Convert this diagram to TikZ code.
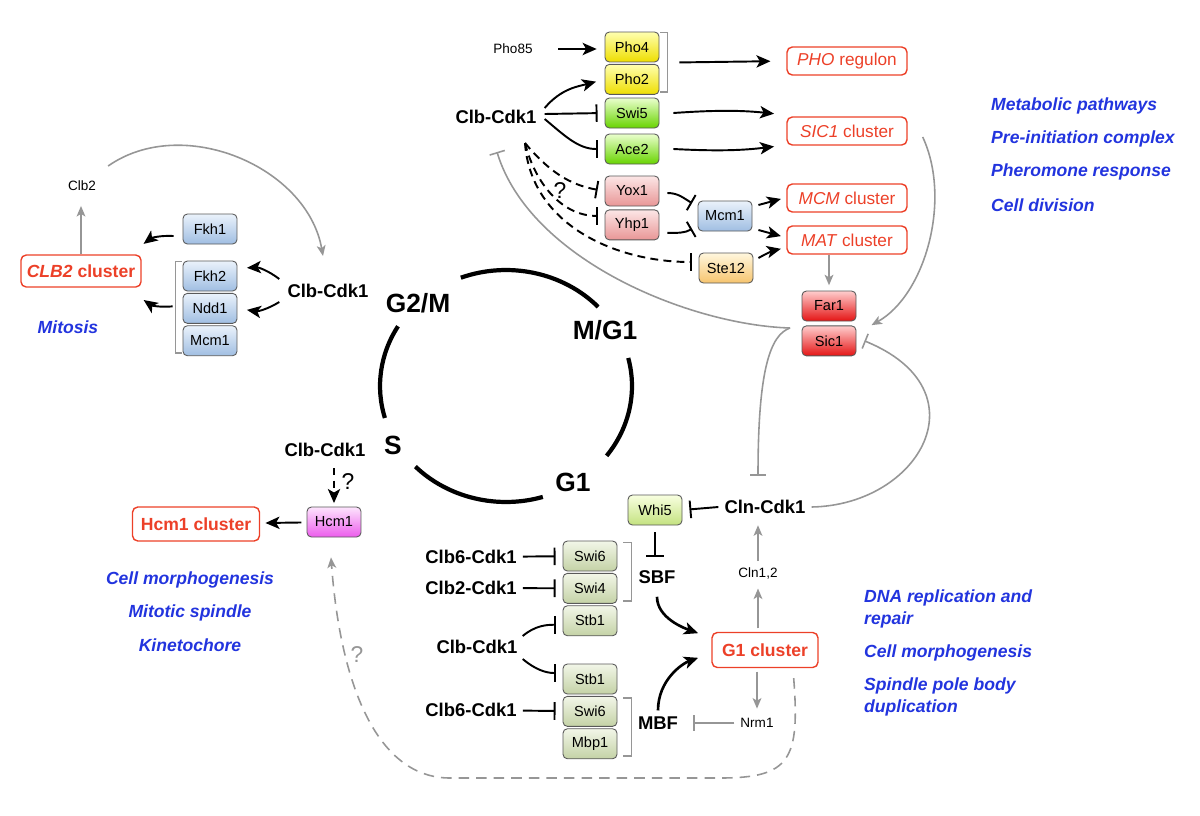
\documentclass[tikz,border=0pt]{standalone}
\usepackage{fontspec}
\setmainfont{Liberation Sans}
\usetikzlibrary{arrows.meta, positioning, calc}

\definecolor{clred}{RGB}{236,64,40}
\definecolor{fnblue}{RGB}{34,52,222}
\definecolor{lngray}{RGB}{150,150,150}
\definecolor{bluetop}{RGB}{234,242,251}
\definecolor{bluebot}{RGB}{160,190,226}
\definecolor{yeltop}{RGB}{255,255,175}
\definecolor{yelbot}{RGB}{238,222,0}
\definecolor{grntop}{RGB}{234,255,205}
\definecolor{grnbot}{RGB}{104,212,0}
\definecolor{pnktop}{RGB}{252,230,230}
\definecolor{pnkbot}{RGB}{232,150,150}
\definecolor{orgtop}{RGB}{255,247,222}
\definecolor{orgbot}{RGB}{246,196,110}
\definecolor{redtop}{RGB}{255,205,205}
\definecolor{redbot}{RGB}{228,20,20}
\definecolor{magtop}{RGB}{253,228,253}
\definecolor{magbot}{RGB}{236,92,236}
\definecolor{limtop}{RGB}{248,255,224}
\definecolor{limbot}{RGB}{196,226,128}
\definecolor{olvtop}{RGB}{242,246,232}
\definecolor{olvbot}{RGB}{196,210,166}

\begin{document}
\begin{tikzpicture}[x=0.02cm, y=0.02cm, >={Stealth[length=8pt,width=7pt,inset=2pt]}, font=\fontsize{8.3}{10}\selectfont]
  \tikzstyle{gene}=[draw=black!65, rounded corners=2.5pt, minimum width=1.08cm, minimum height=0.6cm, inner sep=0pt, line width=0.5pt]
  \tikzstyle{bluegene}=[gene, top color=bluetop, bottom color=bluebot]
  \tikzstyle{yellowgene}=[gene, top color=yeltop, bottom color=yelbot]
  \tikzstyle{brightgene}=[gene, top color=grntop, bottom color=grnbot]
  \tikzstyle{pinkgene}=[gene, top color=pnktop, bottom color=pnkbot]
  \tikzstyle{orangegene}=[gene, top color=orgtop, bottom color=orgbot]
  \tikzstyle{redgene}=[gene, top color=redtop, bottom color=redbot]
  \tikzstyle{magentagene}=[gene, top color=magtop, bottom color=magbot]
  \tikzstyle{limegene}=[gene, top color=limtop, bottom color=limbot]
  \tikzstyle{olivegene}=[gene, top color=olvtop, bottom color=olvbot]
  \tikzstyle{cluster}=[draw=clred, text=clred, rounded corners=3pt, line width=0.8pt, minimum width=2.4cm, minimum height=0.56cm, font=\fontsize{9.8}{11}\selectfont]
  \tikzstyle{boldcluster}=[cluster, font=\bfseries\fontsize{10}{12}\selectfont]
  \tikzstyle{kinase}=[font=\bfseries\fontsize{10.5}{12}\selectfont]
  \tikzstyle{phase}=[font=\bfseries\fontsize{15}{18}\selectfont]
  \tikzstyle{func}=[text=fnblue, align=left, font=\bfseries\itshape\fontsize{10}{13}\selectfont]
  \tikzstyle{smalltext}=[font=\fontsize{7.7}{9}\selectfont]
  \tikzstyle{query}=[font=\fontsize{13}{15}\selectfont]
  \tikzstyle{act}=[->, line width=1.1pt, shorten >=2pt]
  \tikzstyle{inh}=[-{Bar[width=10pt]}, line width=1.1pt, shorten >=4pt]
  \tikzstyle{dact}=[act, dash pattern=on 4pt off 3pt]
  \tikzstyle{dinh}=[-{Bar[width=10pt]}, line width=1.1pt, dash pattern=on 4.5pt off 3pt, shorten >=4pt]
  \tikzstyle{gact}=[-{Stealth[length=6pt,width=5pt,inset=1.5pt]}, lngray, line width=0.9pt, shorten >=2pt]
  \tikzstyle{ginh}=[-{Bar[width=9pt]}, lngray, line width=0.9pt]
  \tikzstyle{gdact}=[gact, dash pattern=on 6pt off 4pt]
  \tikzstyle{bracket}=[lngray, line width=0.9pt]
  \tikzstyle{phasearc}=[line width=2.4pt]

  \useasboundingbox (0,0) rectangle (1200,-815);

  % cell cycle
  \coordinate (cc) at (506,-386);
  \draw[phasearc] ($(cc)+(111:2.52cm and 2.32cm)$) arc[start angle=111, end angle=43, x radius=2.52cm, y radius=2.32cm];
  \draw[phasearc] ($(cc)+(14:2.52cm and 2.32cm)$) arc[start angle=14, end angle=-37, x radius=2.52cm, y radius=2.32cm];
  \draw[phasearc] ($(cc)+(224:2.52cm and 2.32cm)$) arc[start angle=224, end angle=287, x radius=2.52cm, y radius=2.32cm];
  \draw[phasearc] ($(cc)+(149:2.52cm and 2.32cm)$) arc[start angle=149, end angle=196, x radius=2.52cm, y radius=2.32cm];
  \node[phase] (g2m) at (418,-303) {G2/M};
  \node[phase] (mg1) at (605,-330) {M/G1};
  \node[phase] (sph) at (393,-445) {S};
  \node[phase] (g1ph) at (573,-482) {G1};

  % mitosis module
  \node[smalltext] (clb2) at (82,-186) {Clb2};
  \node[bluegene] (fkh1) at (210,-229) {Fkh1};
  \node[boldcluster, minimum width=2.36cm, minimum height=0.64cm] (clb2c) at (81,-271) {\textit{CLB2} cluster};
  \node[bluegene] (fkh2) at (210,-276) {Fkh2};
  \node[bluegene, below=0.03cm of fkh2] (ndd1) {Ndd1};
  \node[bluegene, below=0.03cm of ndd1] (mcm1a) {Mcm1};
  \node[kinase] (clbL) at (328,-291) {Clb-Cdk1};
  \node[func] (mitosis) at (68,-327) {Mitosis};

  \draw[gact, shorten >=5pt] (clb2c.north) -- (clb2c.north |- clb2.south);
  \draw[gact, shorten >=0pt] ($(clb2.east)+(6,20)$) to[out=35, in=100] ($(clbL.north)+(-5,22)$);
  \draw[bracket] ($(fkh2.north west)+(-1,-1)$) -- ++(-6,0) |- ($(mcm1a.south west)+(-1,3)$);
  \draw[act] ($(fkh1.west)+(-9,-7)$) to[bend right=20] ($(clb2c.east)+(-1,25)$);
  \draw[act] ($(ndd1.west)+(-10,2)$) to[bend left=20] ($(clb2c.east)+(-1,-27)$);
  \draw[act] ($(clbL.west)+(-2,12)$) to[bend right=20] ($(fkh2.east)+(6,8)$);
  \draw[act] ($(clbL.west)+(-2,-11)$) to[bend left=20] ($(ndd1.east)+(6,-1)$);

  % M/G1 module
  \node[smalltext] (pho85) at (513,-49) {Pho85};
  \node[yellowgene] (pho4) at (632,-47) {Pho4};
  \node[yellowgene, below=0.03cm of pho4] (pho2) {Pho2};
  \node[kinase] (clbT) at (496,-117) {Clb-Cdk1};
  \node[brightgene] (swi5) at (632,-113) {Swi5};
  \node[brightgene] (ace2) at (632,-149) {Ace2};
  \node[pinkgene] (yox1) at (632,-191) {Yox1};
  \node[pinkgene, below=0.06cm of yox1] (yhp1) {Yhp1};
  \node[bluegene] (mcm1b) at (725,-216) {Mcm1};
  \node[orangegene] (ste12) at (726,-268) {Ste12};
  \node[cluster] (pho) at (847,-61) {\textit{PHO} regulon};
  \node[cluster] (sic1c) at (847,-131) {\textit{SIC1} cluster};
  \node[cluster] (mcmc) at (847,-198) {\textit{MCM} cluster};
  \node[cluster] (matc) at (847,-240) {\textit{MAT} cluster};
  \node[redgene] (far1) at (829,-306) {Far1};
  \node[redgene, below=0.08cm of far1] (sic1) {Sic1};
  \node[query] (q1) at (560,-191) {?};

  \draw[act, shorten <=11pt, shorten >=4.5pt] (pho85.east) -- (pho85.east -| pho4.west);
  \draw[bracket] ($(pho4.north east)+(1,-1)$) -- ++(7,0) |- ($(pho2.south east)+(1,3)$);
  \draw[act, shorten >=9pt] ($(pho4.south east)+(20,0)$) -- (pho.west);
  \draw[act, shorten >=5pt] ($(clbT.east)+(2,9)$) to[out=50, in=195] (pho2.west);
  \draw[inh] ($(clbT.east)+(2,3)$) -- (swi5.west);
  \draw[inh] ($(clbT.east)+(2,-2)$) to[out=-40, in=180] (ace2.west);
  \draw[act, shorten >=7pt] ($(swi5.east)+(14,0)$) to[bend left=5] ($(sic1c.west)+(0,16)$);
  \draw[act, shorten >=7pt] ($(ace2.east)+(14,0)$) to[bend right=5] ($(sic1c.west)+(0,-14)$);
  \coordinate (dstart) at (525,-143);
  \draw[dinh] (dstart) to[out=-50, in=170] (yox1.west);
  \draw[dinh] (dstart) to[out=-76, in=180] ($(yhp1.west)+(0,9)$);
  \draw[dinh] (dstart) to[out=-86, in=180] ($(ste12.west)+(0,6)$);
  \draw[inh, shorten >=1pt] ($(yox1.east)+(8,-2)$) to[out=0, in=150] ($(mcm1b.west)+(-4,12)$);
  \draw[inh, shorten >=1pt] ($(yhp1.east)+(8,-8)$) to[out=0, in=-150] ($(mcm1b.west)+(-4,-12)$);
  \draw[act] ($(mcm1b.east)+(6,11)$) -- ($(mcmc.west)+(-2,0)$);
  \draw[act] ($(mcm1b.east)+(6,-14)$) -- ($(matc.west)+(-2,3)$);
  \draw[act] ($(ste12.east)+(5,10)$) to[bend left=8] ($(matc.west)+(-2,-8)$);
  \draw[gact, shorten >=3pt] (matc.south -| far1.north) -- (far1.north);
  \draw[gact] ($(sic1c.east)+(15,-6)$) .. controls (952,-200) and (925,-295) .. ($(sic1.east)+(12,14)$);

  % G1 module
  \node[kinase] (clnc) at (765,-507) {Cln-Cdk1};
  \node[limegene] (whi5) at (655,-510) {Whi5};
  \node[kinase] (sbf) at (657,-577) {SBF};
  \node[kinase] (mbf) at (658,-723) {MBF};
  \node[olivegene] (swi6a) at (590,-556) {Swi6};
  \node[olivegene, below=0.03cm of swi6a] (swi4a) {Swi4};
  \node[olivegene, below=0.03cm of swi4a] (stb1a) {Stb1};
  \node[olivegene] (stb1b) at (590,-679) {Stb1};
  \node[olivegene, below=0.03cm of stb1b] (swi6b) {Swi6};
  \node[olivegene, below=0.03cm of swi6b] (mbp1) {Mbp1};
  \node[kinase] (clb6a) at (471,-557) {Clb6-Cdk1};
  \node[kinase] (clb2b) at (471,-588) {Clb2-Cdk1};
  \node[kinase] (clbB) at (477,-647) {Clb-Cdk1};
  \node[kinase] (clb6b) at (471,-710) {Clb6-Cdk1};
  \node[boldcluster, minimum width=2.12cm, minimum height=0.7cm] (g1c) at (765,-650) {G1 cluster};
  \node[smalltext] (cln12) at (758,-573) {Cln1,2};
  \node[smalltext] (nrm1) at (757,-723) {Nrm1};
  \coordinate (j) at (790,-328);

  \draw[inh] (clnc.west) -- (whi5.east);
  \draw[inh, shorten <=4pt] (whi5.south) -- (whi5.south |- sbf.north);
  \draw[bracket] ($(swi6a.north east)+(6,-2)$) -- ++(8,0) |- ($(swi4a.south east)+(6,3)$);
  \draw[bracket] ($(swi6b.north east)+(6,-2)$) -- ++(8,0) |- ($(mbp1.south east)+(6,3)$);
  \draw[inh] (clb6a) -- (swi6a);
  \draw[inh] (clb2b) -- (swi4a);
  \draw[inh] (clb6b) -- (swi6b);
  \draw[inh] ($(clbB.east)+(-1,11)$) to[out=40, in=180] ($(stb1a.west)+(0,-4)$);
  \draw[inh] ($(clbB.east)+(-1,-12)$) to[out=-40, in=180] ($(stb1b.west)+(0,6)$);
  \draw[act, line width=1.5pt, shorten <=4pt, shorten >=8pt] (sbf.south) to[out=-90, in=160] ($(g1c.west)+(0,12)$);
  \draw[act, line width=1.5pt, shorten >=8pt] (mbf.north) to[out=90, in=200] ($(g1c.west)+(0,-3)$);
  \draw[gact, shorten <=2pt] (g1c.north -| cln12.south) -- (cln12.south);
  \draw[gact, shorten >=3pt] (cln12.north) -- (clnc.south -| cln12.north);
  \draw[gact, shorten <=2pt] (g1c.south -| nrm1.north) -- (nrm1.north);
  \draw[ginh, shorten >=5pt] (nrm1.west) -- (mbf.east);
  \draw[ginh] (clnc.east) .. controls (920,-505) and (985,-390) .. ($(sic1.east)+(8,0)$);
  \draw[ginh] (j) .. controls (690,-325) and (530,-260) .. ($(clbT.south)+(1,-22)$);
  \draw[ginh] (j) .. controls (770,-335) and (758,-370) .. ($(clnc.north)+(-7,18)$);

  % S module
  \node[kinase] (clbS) at (325,-450) {Clb-Cdk1};
  \node[magentagene] (hcm1) at (334,-522) {Hcm1};
  \node[boldcluster, minimum width=2.54cm, minimum height=0.68cm] (hcm1c) at (196,-524) {Hcm1 cluster};
  \node[query] (q2) at (348,-482) {?};
  \node[query, text=lngray] (q3) at (357,-655) {?};

  \draw[act, shorten <=3pt, shorten >=3pt] (hcm1) -- (hcm1c);
  \draw[dact, shorten <=3pt] (clbS.south -| hcm1.north) -- (hcm1.north);
  \draw[gdact, shorten >=0pt] ($(g1c.south east)+(-25,-10)$) .. controls (800,-760) and (790,-778) .. (720,-778) -- (450,-778) .. controls (375,-778) and (340,-680) .. ($(hcm1.south)+(-3,-20)$);

  % functional categories
  \node[func] (fmorph) at (190,-580) {Cell morphogenesis};
  \node[func] (fspindle) at (190,-613) {Mitotic spindle};
  \node[func] (fkineto) at (190,-645) {Kinetochore};
  \node[func, anchor=west] (fmetab) at (985,-106) {Metabolic pathways};
  \node[func, anchor=west] (fpic) at (985,-139) {Pre-initiation complex};
  \node[func, anchor=west] (fphero) at (985,-172) {Pheromone response};
  \node[func, anchor=west] (fdiv) at (985,-205) {Cell division};
  \node[func, anchor=west] (fdna) at (858,-609) {DNA replication and\\repair};
  \node[func, anchor=west] (fmorph2) at (858,-653) {Cell morphogenesis};
  \node[func, anchor=west] (fspb) at (858,-697) {Spindle pole body\\duplication};
\end{tikzpicture}
\end{document}
